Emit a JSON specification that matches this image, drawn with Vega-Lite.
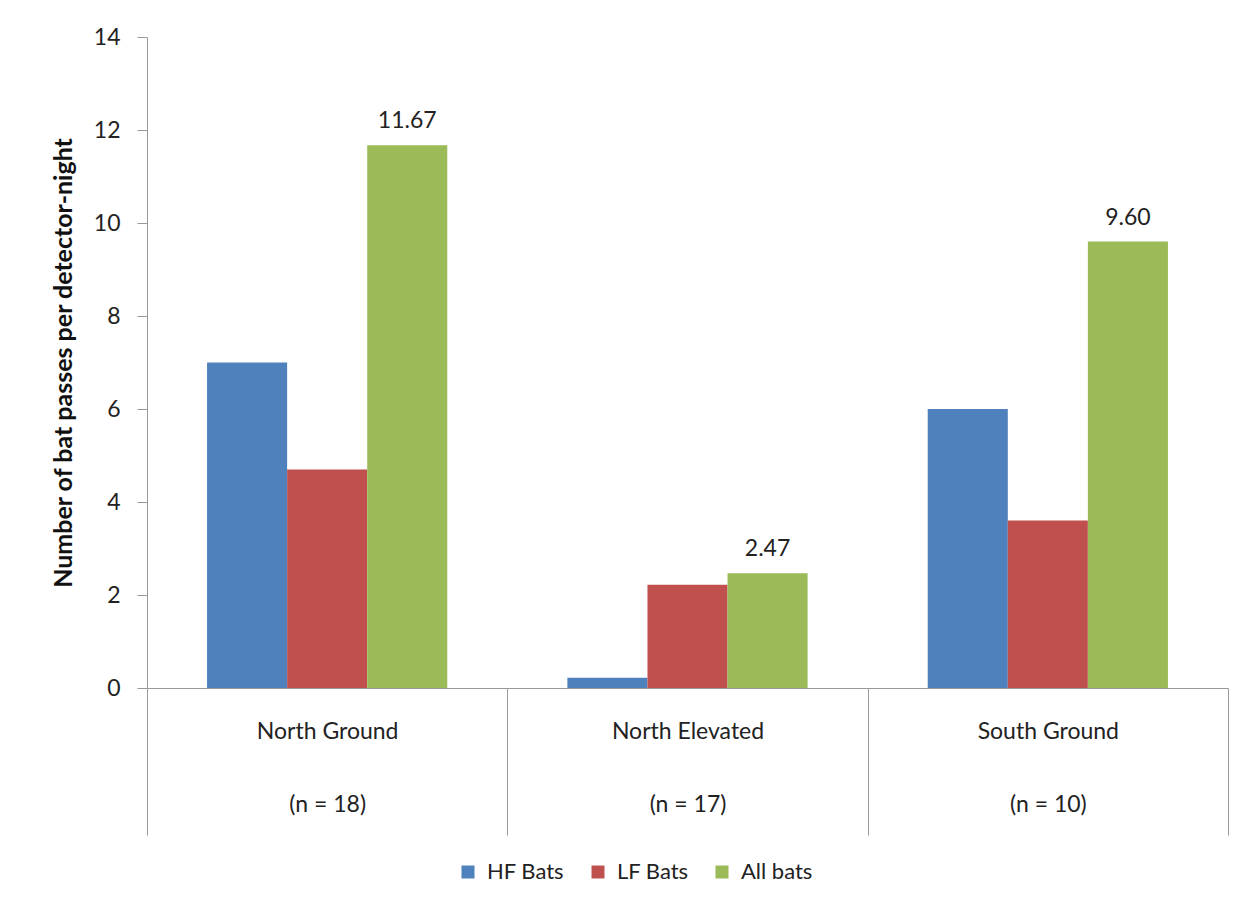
{
  "$schema": "https://vega.github.io/schema/vega-lite/v6.json",
  "width": 1081,
  "height": 651,
  "autosize": {"type": "none"},
  "padding": {"left": 147, "top": 37, "right": 26, "bottom": 221},
  "background": "white",
  "config": {
    "view": {"stroke": null},
    "font": "Lato",
    "axis": {"grid": false, "domainColor": "#999999", "tickColor": "#999999", "labelColor": "#222222", "titleColor": "#111111", "labelFont": "Lato", "titleFont": "Lato"}
  },
  "data": {
    "values": [
      {"site": "North Ground", "series": "HF Bats", "value": 7.0},
      {"site": "North Ground", "series": "LF Bats", "value": 4.7},
      {"site": "North Ground", "series": "All bats", "value": 11.67},
      {"site": "North Elevated", "series": "HF Bats", "value": 0.22},
      {"site": "North Elevated", "series": "LF Bats", "value": 2.22},
      {"site": "North Elevated", "series": "All bats", "value": 2.47},
      {"site": "South Ground", "series": "HF Bats", "value": 6.0},
      {"site": "South Ground", "series": "LF Bats", "value": 3.6},
      {"site": "South Ground", "series": "All bats", "value": 9.6}
    ]
  },
  "encoding": {
    "x": {
      "field": "site",
      "type": "nominal",
      "sort": ["North Ground", "North Elevated", "South Ground"],
      "scale": {"paddingInner": 0, "paddingOuter": 0},
      "axis": {
        "title": null,
        "labelAngle": 0,
        "tickBand": "extent",
        "tickSize": 147,
        "labelPadding": -115,
        "labelFontSize": 23,
        "labelLineHeight": 73,
        "labelOverlap": false,
        "labelExpr": "datum.value == 'North Ground' ? ['North Ground', '(n = 18)'] : datum.value == 'North Elevated' ? ['North Elevated', '(n = 17)'] : datum.value == 'South Ground' ? ['South Ground', '(n = 10)'] : ''"
      }
    },
    "xOffset": {
      "field": "series",
      "sort": ["HF Bats", "LF Bats", "All bats"],
      "scale": {"paddingInner": 0, "paddingOuter": 0.75}
    },
    "y": {
      "field": "value",
      "type": "quantitative",
      "scale": {"domain": [0, 14]},
      "axis": {
        "values": [0, 2, 4, 6, 8, 10, 12, 14],
        "tickSize": 10,
        "labelPadding": 17,
        "labelFontSize": 23,
        "title": "Number of bat passes per detector-night",
        "titleFontSize": 25,
        "titleFontWeight": "bold",
        "titlePadding": 17
      }
    }
  },
  "layer": [
    {
      "mark": {"type": "bar"},
      "encoding": {
        "color": {
          "field": "series",
          "type": "nominal",
          "sort": ["HF Bats", "LF Bats", "All bats"],
          "scale": {"domain": ["HF Bats", "LF Bats", "All bats"], "range": ["#4F81BD", "#C0504D", "#9BBB59"]},
          "legend": {
            "title": null,
            "orient": "none",
            "direction": "horizontal",
            "legendX": 310,
            "legendY": 824,
            "symbolType": "square",
            "symbolSize": 169,
            "symbolStrokeWidth": 0,
            "symbolOpacity": 1,
            "labelFontSize": 22,
            "labelColor": "#222222",
            "labelOffset": 8,
            "columnPadding": 22,
            "padding": 0
          }
        }
      }
    },
    {
      "transform": [{"filter": "datum.series == 'All bats'"}],
      "mark": {"type": "text", "baseline": "bottom", "dy": -12, "fontSize": 23, "color": "#222222"},
      "encoding": {
        "text": {"field": "value", "type": "quantitative", "format": ".2f"}
      }
    }
  ]
}
